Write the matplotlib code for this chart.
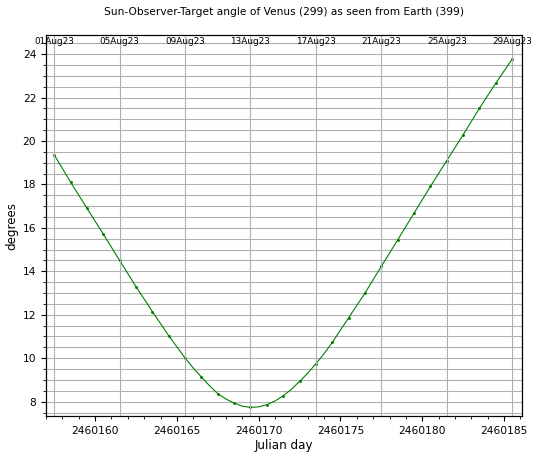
import numpy as np
import matplotlib
matplotlib.use('Agg')
import matplotlib.pyplot as plt
from matplotlib.ticker import MultipleLocator

# Julian day (daily, 00:00 UT) and the Sun-Observer-Target angle in degrees
jd = np.arange(2460157.5, 2460186.0, 1.0)
sot = [19.37, 18.11, 16.91, 15.72, 14.50, 13.30, 12.15, 11.04, 10.01, 9.14,
       8.37, 7.94, 7.74, 7.86, 8.27, 8.93, 9.75, 10.73, 11.86, 13.00,
       14.23, 15.45, 16.68, 17.91, 19.10, 20.29, 21.51, 22.67, 23.77]

# extra readings of the drawn curve between the daily points near the minimum
mid_jd = [2460166.0, 2460167.0, 2460168.0, 2460169.0, 2460170.0,
          2460171.0, 2460172.0, 2460173.0, 2460174.0]
mid_sot = [9.55, 8.73, 8.12, 7.79, 7.76, 8.03, 8.57, 9.31, 10.21]

# date labels for the top axis
date_jd = [2460157.5, 2460161.5, 2460165.5, 2460169.5, 2460173.5,
           2460177.5, 2460181.5, 2460185.5]
date_lab = ['01Aug23', '05Aug23', '09Aug23', '13Aug23', '17Aug23',
            '21Aug23', '25Aug23', '29Aug23']

line_jd = np.concatenate([jd, mid_jd])
line_sot = np.concatenate([sot, mid_sot])
order = np.argsort(line_jd)

fig = plt.figure(figsize=(5.4, 4.58), dpi=100)
ax = fig.add_axes([46/540, 1-416/458, 475.7/540, 381/458])

ax.plot(line_jd[order], line_sot[order], '-', color='g', lw=0.8)
ax.plot(jd, sot, '.', color='g', ms=2.2)
ax.set_xlim(2460157.0, 2460186.08)
ax.set_ylim(7.34, 24.88)

ax.xaxis.set_major_locator(MultipleLocator(5))
ax.xaxis.set_minor_locator(MultipleLocator(1))
ax.yaxis.set_major_locator(MultipleLocator(2))
ax.yaxis.set_minor_locator(MultipleLocator(0.5))
ax.ticklabel_format(axis='x', useOffset=False, style='plain')
ax.tick_params(labelsize=7.7)
ax.grid(True, which='both', axis='y', color='#b0b0b0', lw=0.8)

ax.set_xlabel('Julian day', fontsize=8.6, labelpad=2)
ax.set_ylabel('degrees', fontsize=8.6, labelpad=3)

# top axis with calendar dates
ax2 = ax.twiny()
ax2.set_xlim(ax.get_xlim())
ax2.set_xticks(date_jd)
ax2.set_xticklabels(date_lab)
ax2.tick_params(axis='x', direction='in', length=0, pad=-8.0, labelsize=6.4)
ax2.grid(True, axis='x', color='#b0b0b0', lw=0.8)

fig.text(0.525, 1-12/458, 'Sun-Observer-Target angle of Venus (299) as seen from Earth (399)',
         ha='center', va='center', fontsize=7.7)

fig.savefig('out.png', dpi=100)
